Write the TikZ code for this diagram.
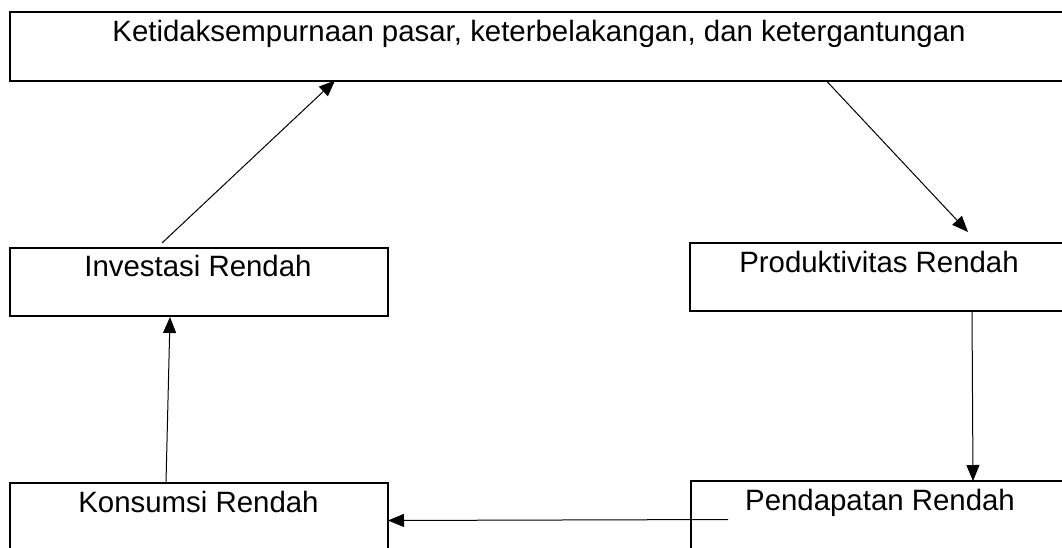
\documentclass[tikz,border=0pt]{standalone}
\usepackage{fontspec}
\setmainfont{Liberation Sans}
\usetikzlibrary{arrows.meta}
\begin{document}
\begin{tikzpicture}[x=1pt,y=-1pt,
  box/.style={draw=black,line width=2pt,rectangle,inner sep=0pt,outer sep=0pt,anchor=north west},
  lbl/.style={anchor=base,inner sep=0pt,font=\fontsize{29.4}{34}\selectfont},
  conn/.style={draw=black,line width=1pt,-{Triangle[length=16pt,width=13pt]}}]
\useasboundingbox (0,0) rectangle (1062,547);
\fill[white] (0,0) rectangle (1062,547);
% boxes
\node[box,minimum width=1060pt,minimum height=68.5pt] (top) at (10,12) {};
\node[box,minimum width=378pt,minimum height=68pt] (inv) at (10,248) {};
\node[box,minimum width=380pt,minimum height=68pt] (prod) at (690,243) {};
\node[box,minimum width=378pt,minimum height=80pt] (kons) at (10,483) {};
\node[box,minimum width=379pt,minimum height=82pt] (pend) at (691,481) {};
% labels
\node[lbl] (ttop) at (539,41) {Ketidaksempurnaan pasar, keterbelakangan, dan ketergantungan};
\node[lbl] (tinv) at (198,276.5) {Investasi Rendah};
\node[lbl] (tprod) at (879,272) {Produktivitas Rendah};
\node[lbl] (tkons) at (198.5,512) {Konsumsi Rendah};
\node[lbl] (tpend) at (880,510) {Pendapatan Rendah};
% connectors
\draw[conn] ([shift={(152,-5)}]inv.north west) -- ([shift={(325,0)}]top.south west);
\draw[conn] ([shift={(817,1)}]top.south west) -- ([shift={(278,-11)}]prod.north west);
\draw[conn] ([shift={(282,0)}]prod.south west) -- ([shift={(282,0)}]pend.north west);
\draw[conn] ([shift={(37,38.5)}]pend.north west) -- ([shift={(0,37.5)}]kons.north east);
\draw[conn] ([shift={(156,0)}]kons.north west) -- ([shift={(160,1)}]inv.south west);
\end{tikzpicture}
\end{document}
